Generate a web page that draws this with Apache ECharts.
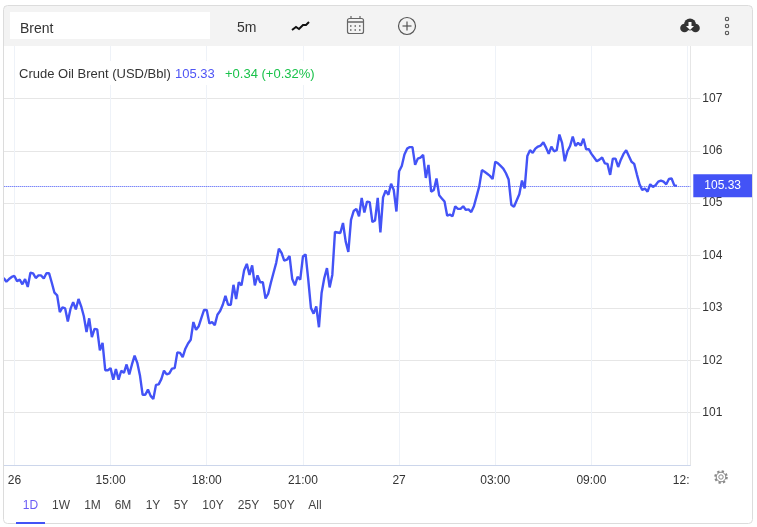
<!DOCTYPE html>
<html><head><meta charset="utf-8">
<style>html,body{margin:0;padding:0;background:#fff}#c{width:757px;height:527px}</style>
<script src="https://cdn.jsdelivr.net/npm/echarts@6/dist/echarts.min.js"></script>
</head><body><div id="c"></div>
<script>
const prices = [
103.57,103.50,103.55,103.59,103.61,103.51,103.54,103.45,103.55,103.40,103.67,103.66,103.57,103.62,103.62,103.56,103.66,103.66,103.48,103.29,103.24,102.92,103.01,102.99,102.74,102.98,103.11,102.97,103.17,103.03,102.84,102.54,102.80,102.44,102.60,102.59,102.19,102.33,101.81,101.81,101.85,101.63,101.83,101.63,101.80,101.76,101.92,101.73,101.92,102.09,101.95,101.71,101.34,101.34,101.44,101.32,101.26,101.53,101.54,101.64,101.80,101.73,101.75,101.84,101.85,102.15,102.14,102.06,102.22,102.32,102.39,102.73,102.58,102.65,
102.81,102.96,102.96,102.70,102.73,102.67,102.87,102.94,103.06,103.23,103.06,103.06,103.44,103.17,103.49,103.43,103.72,103.84,103.63,103.81,103.43,103.62,103.49,103.49,103.18,103.27,103.48,103.67,103.86,104.13,104.05,103.90,103.92,103.99,103.55,103.43,103.59,103.54,103.98,104.02,103.54,103.00,102.89,103.03,102.63,103.29,103.57,103.76,103.39,103.63,104.45,104.44,104.43,104.62,104.27,104.07,104.68,104.85,104.89,104.75,105.10,104.82,105.03,105.02,104.64,104.67,105.10,104.44,105.11,105.24,105.16,105.37,105.25,104.84,
105.61,105.71,105.93,106.04,106.07,106.07,105.73,105.85,105.87,105.92,105.48,105.73,105.22,105.25,105.47,105.15,105.09,105.03,104.76,104.78,104.75,104.94,104.89,104.89,104.94,104.87,104.88,104.83,104.94,105.13,105.32,105.63,105.60,105.56,105.52,105.46,105.79,105.76,105.71,105.66,105.57,105.45,104.97,104.93,105.05,105.17,105.43,105.28,105.90,106.01,105.96,106.04,106.08,106.10,106.16,106.06,105.94,106.08,105.99,106.01,106.31,106.15,105.80,105.99,106.09,106.27,106.09,106.15,106.10,106.23,106.03,106.03,105.94,105.87,105.80,105.83,105.87,105.76,105.75,105.54,105.85,105.85,105.69,105.83,105.94,106.01,105.90,105.79,105.75,105.55,105.36,105.25,105.28,105.22,105.36,105.31,105.34,105.41,105.43,105.41,105.36,105.46,105.47,105.34,105.33];
const slotCount = 258;
const tickSlots = [4,40,76,112,148,184,220,256];
const tickLabels = ['26','15:00','18:00','21:00','27','03:00','09:00','12:'];
const yTicks = [101,102,103,104,105,106,107];
const lastPrice = 105.33;
const ranges = ['1D','1W','1M','6M','1Y','5Y','10Y','25Y','50Y','All'];
const rangeX = [30.5,61,92.5,123,153,181,213,248.5,284,315];

const FONT = '"Liberation Sans", Arial, sans-serif';
const BLUE = '#4353f6';
const slots = Array.from({length: slotCount}, (_, i) => String(i));
const isTick = i => tickSlots.includes(+i);
const t = (x, y, text, o = {}) => ({type:'text', x, y, z:50, silent:true, style:Object.assign({text, fill:'#333', font:'12px '+FONT, textVerticalAlign:'middle'}, o)});

const chart = echarts.init(document.getElementById('c'), null, {renderer:'canvas'});
chart.setOption({
  animation:false,
  textStyle:{fontFamily:FONT},
  grid:{left:3.7, top:46, width:686.6, height:419, containLabel:false},
  xAxis:{type:'category', data:slots, boundaryGap:false,
    axisLine:{show:true, onZero:false, lineStyle:{color:'#ccd6eb', width:1}},
    axisTick:{show:false},
    axisLabel:{interval:(i)=>isTick(i), color:'#333', fontSize:12, margin:10, showMinLabel:true, showMaxLabel:true,
      formatter:(v)=>{const l=tickLabels[tickSlots.indexOf(+v)]; return l==='12:' ? '{c|12:}' : (l||'');},
      rich:{c:{color:'#333', fontSize:12, padding:[0,13,0,0]}}},
    splitLine:{show:true, interval:(i)=>isTick(i), lineStyle:{color:'#eef2f8', width:1}}},
  yAxis:{type:'value', position:'right', min:100, max:108, interval:1,
    axisLine:{show:true, onZero:false, lineStyle:{color:'#e6e6e6', width:1}},
    axisTick:{show:true, length:10, lineStyle:{color:'#e6e6e6'}, customValues:yTicks},
    axisLabel:{color:'#333', fontSize:12, margin:12, padding:[2,0,0,0], customValues:yTicks},
    splitLine:{show:true, lineStyle:{color:'#e6e6e6', width:1}}},
  series:[{type:'line', data:prices, symbol:'none', smooth:false, z:5,
    lineStyle:{color:BLUE, width:2.4}, itemStyle:{color:BLUE},
    markLine:{silent:true, symbol:'none', animation:false,
      lineStyle:{color:BLUE, type:'dotted', width:1, opacity:1},
      label:{show:true, position:'end', distance:3, formatter:()=>lastPrice.toFixed(2), color:'#fff', fontSize:12,
        backgroundColor:BLUE, padding:[6,11,5,11]},
      data:[{yAxis:lastPrice}]}}],
  graphic:[
    {type:'rect', z:40, silent:true, shape:{x:15,y:61,width:305,height:24}, style:{fill:'#fff'}},
    {type:'rect', z:40, silent:true, shape:{x:4,y:6,width:748,height:40}, style:{fill:'#f3f3f3'}},
    {type:'rect', z:45, silent:true, shape:{x:3.5,y:5.5,width:749,height:518,r:4}, style:{fill:'none',stroke:'#dcdcdc',lineWidth:1}},
    {type:'rect', z:41, silent:true, shape:{x:10,y:12,width:200,height:27}, style:{fill:'#fff'}},
    t(20,29,'Brent',{font:'14px '+FONT}),
    t(237,28,'5m',{font:'14px '+FONT}),
    {type:'polyline', z:50, silent:true, shape:{points:[[292,30],[296,27],[299,29],[303,25],[306,25],[309,22]]}, style:{stroke:'#111',fill:'none',lineWidth:2}},
    {type:'rect', z:50, silent:true, shape:{x:347.5,y:18.5,width:16,height:15,r:2}, style:{fill:'none',stroke:'#666',lineWidth:1.2}},
    {type:'line', z:50, silent:true, shape:{x1:347.5,y1:22,x2:363.5,y2:22}, style:{stroke:'#666',lineWidth:1.5}},
    {type:'line', z:50, silent:true, shape:{x1:351,y1:16,x2:351,y2:19}, style:{stroke:'#666',lineWidth:1.2}},
    {type:'line', z:50, silent:true, shape:{x1:360,y1:16,x2:360,y2:19}, style:{stroke:'#666',lineWidth:1.2}},
    {type:'line', z:50, silent:true, shape:{x1:350,y1:26,x2:361,y2:26}, style:{stroke:'#666',lineWidth:1.5,lineDash:[1.5,3]}},
    {type:'line', z:50, silent:true, shape:{x1:350,y1:30,x2:361,y2:30}, style:{stroke:'#666',lineWidth:1.5,lineDash:[1.5,3]}},
    {type:'circle', z:50, silent:true, shape:{cx:407,cy:26,r:8.5}, style:{fill:'none',stroke:'#555',lineWidth:1.2}},
    {type:'line', z:50, silent:true, shape:{x1:402.5,y1:26,x2:411.5,y2:26}, style:{stroke:'#555',lineWidth:1.2}},
    {type:'line', z:50, silent:true, shape:{x1:407,y1:21.5,x2:407,y2:30.5}, style:{stroke:'#555',lineWidth:1.2}},
    {type:'circle', z:50, silent:true, shape:{cx:690,cy:24.5,r:6}, style:{fill:'#333'}},
    {type:'circle', z:50, silent:true, shape:{cx:684.5,cy:28,r:4.3}, style:{fill:'#333'}},
    {type:'circle', z:50, silent:true, shape:{cx:695.5,cy:28,r:4.3}, style:{fill:'#333'}},
    {type:'polygon', z:51, silent:true, shape:{points:[[688.5,22],[691.5,22],[691.5,26],[694,26],[690,30],[686,26],[688.5,26]]}, style:{fill:'#fff'}},
    ...[19,26,33].map(cy=>({type:'circle', z:50, silent:true, shape:{cx:727,cy,r:1.7}, style:{fill:'none',stroke:'#555',lineWidth:1.1}})),
    t(19,74,'Crude Oil Brent (USD/Bbl)',{font:'13px '+FONT}),
    t(175,74,'105.33',{fill:'#4f55f5',font:'13px '+FONT}),
    t(225,74,'+0.34 (+0.32%)',{fill:'#19c24a',font:'13px '+FONT}),
    ...ranges.map((r,i)=>t(rangeX[i],506,r,{textAlign:'center',fill:i===0?'#6a5cf5':'#444'})),
    {type:'rect', z:50, silent:true, shape:{x:16,y:522,width:29,height:2}, style:{fill:BLUE}},
    {type:'circle', z:50, silent:true, shape:{cx:721,cy:477,r:5.6}, style:{fill:'#fff',stroke:'#888',lineWidth:2.4,lineDash:[2.2,2.2]}},
    {type:'circle', z:51, silent:true, shape:{cx:721,cy:477,r:4.8}, style:{fill:'#fff',stroke:'#888',lineWidth:1}},
    {type:'circle', z:51, silent:true, shape:{cx:721,cy:477,r:2.2}, style:{fill:'#fff',stroke:'#888',lineWidth:1}}
  ]
});
</script></body></html>
